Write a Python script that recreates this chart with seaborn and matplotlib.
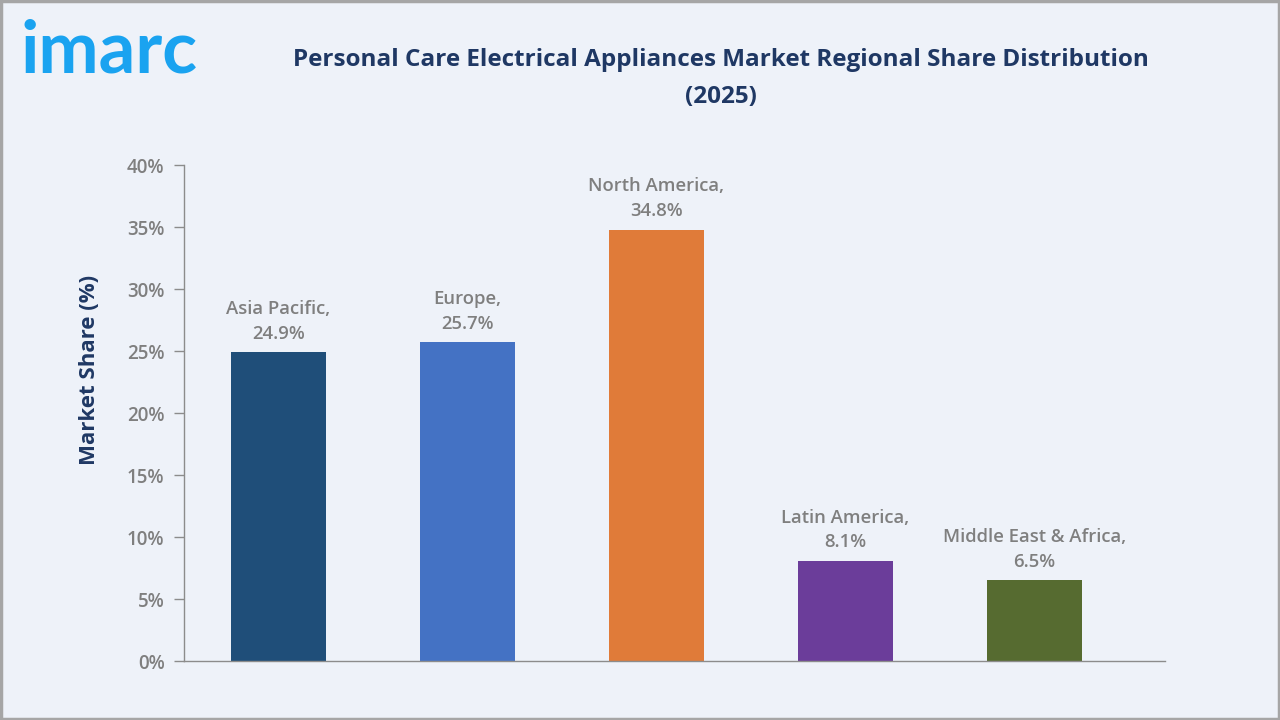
import matplotlib
matplotlib.use("Agg")
import matplotlib.pyplot as plt
import seaborn as sns
import pandas as pd
from matplotlib.patches import Rectangle

regions = ["Asia Pacific", "Europe", "North America", "Latin America", "Middle East & Africa"]
shares = [24.9, 25.7, 34.8, 8.1, 6.5]
colors = ["#1F4E79", "#4472C4", "#E07B39", "#6B3D9A", "#566B30"]
yticks = [0, 5, 10, 15, 20, 25, 30, 35, 40]

sns.set_theme(style="white")
plt.rcParams['font.family'] = ['Open Sans', 'DejaVu Sans']

bg = "#EEF2F9"
fig = plt.figure(figsize=(12.8, 7.2), dpi=100, facecolor=bg)
ax = fig.add_axes([0.14375, 0.0819, 0.7664, 0.6889])
ax.set_facecolor(bg)

df = pd.DataFrame({"region": regions, "share": shares})
sns.barplot(data=df, x="region", y="share", hue="region", palette=colors,
            width=0.5, legend=False, ax=ax, saturation=1, linewidth=0)

ax.set_ylim(0, 40)
ax.set_xlim(-0.5, 4.69)
ax.set_yticks(yticks)
ax.set_yticklabels([f"{t}%" for t in yticks], fontsize=13.5, color="#7F7F7F", fontweight="semibold")
ax.set_xticks([])
ax.set_xlabel("")
ax.set_ylabel("Market Share (%)", fontsize=16, fontweight="bold", color="#1F3864")
ax.yaxis.set_label_coords(-0.086, 0.587)
ax.tick_params(axis="y", length=7, width=1, color="#8C8C8C", left=True, pad=7)
for s in ["top", "right"]:
    ax.spines[s].set_visible(False)
for s in ["left", "bottom"]:
    ax.spines[s].set_color("#8C8C8C")
    ax.spines[s].set_linewidth(1)

for i, (r, v) in enumerate(zip(regions, shares)):
    ax.annotate(f"{r},\n{v}%", xy=(i, v), xytext=(0, 7), textcoords="offset points",
                ha="center", va="bottom", fontsize=13.3, fontweight="semibold",
                color="#7F7F7F", linespacing=1.45)

fig.text(0.5635, 0.891, "Personal Care Electrical Appliances Market Regional Share Distribution\n(2025)",
         ha="center", va="center", fontsize=17.5, fontweight="bold", color="#1F3864", linespacing=1.7)

fig.text(0.016, 0.928, "imarc", ha="left", va="center", fontsize=52, fontweight="bold",
         color="#1AA3F0", family=["Lato", "DejaVu Sans"])

fig.add_artist(Rectangle((0.001, 0.001), 0.998, 0.997, transform=fig.transFigure,
                         fill=False, edgecolor="#A6A6A6", linewidth=2.5))

fig.savefig("out.png", dpi=100, facecolor=bg)
